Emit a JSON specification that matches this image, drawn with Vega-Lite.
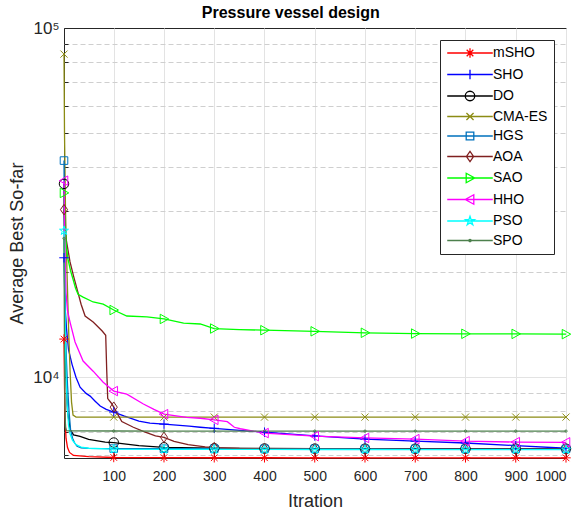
{
  "$schema": "https://vega.github.io/schema/vega-lite/v6.json",
  "autosize": {"type": "none"},
  "width": 502,
  "height": 430,
  "padding": {"left": 64, "top": 28, "right": 14, "bottom": 56},
  "background": "white",
  "config": {
    "font": "Liberation Sans",
    "view": {"stroke": "#262626", "strokeWidth": 1},
    "axis": {"labelFont": "Liberation Sans", "titleFont": "Liberation Sans", "labelColor": "#262626", "titleColor": "#262626", "domainColor": "#262626", "tickColor": "#262626", "titleFontWeight": "normal"},
    "legend": {"orient": "none", "legendX": 376, "legendY": 12, "padding": 6, "rowPadding": 5.5,
        "symbolOffset": 17, "labelOffset": 16, "labelFontSize": 14, "labelFont": "Liberation Sans", "labelColor": "#000000",
        "fillColor": "#ffffff", "strokeColor": "#262626", "symbolSize": 90, "symbolStrokeWidth": 1.3}
  },
  "title": {"text": "Pressure vessel design", "fontSize": 16, "fontWeight": "bold", "font": "Liberation Sans", "color": "#000000", "offset": -2, "anchor": "middle", "frame": "bounds"},
  "datasets": {
    "curves": [
      {"a":"mSHO","it":1,"v":12875},{"a":"mSHO","it":2,"v":9500},{"a":"mSHO","it":3,"v":7800},{"a":"mSHO","it":5,"v":6700},{"a":"mSHO","it":8,"v":6300},{"a":"mSHO","it":12,"v":6100},{"a":"mSHO","it":20,"v":5980},{"a":"mSHO","it":50,"v":5930},{"a":"mSHO","it":100,"v":5900},{"a":"mSHO","it":200,"v":5893},{"a":"mSHO","it":300,"v":5890},{"a":"mSHO","it":400,"v":5889},{"a":"mSHO","it":500,"v":5888},{"a":"mSHO","it":600,"v":5888},{"a":"mSHO","it":700,"v":5887},{"a":"mSHO","it":800,"v":5887},{"a":"mSHO","it":900,"v":5886},{"a":"mSHO","it":1000,"v":5886},
      {"a":"SHO","it":1,"v":22000},{"a":"SHO","it":3,"v":16000},{"a":"SHO","it":6,"v":13800},{"a":"SHO","it":10,"v":12000},{"a":"SHO","it":17,"v":10900},{"a":"SHO","it":25,"v":10000},{"a":"SHO","it":33,"v":9380},{"a":"SHO","it":45,"v":9000},{"a":"SHO","it":53,"v":8840},{"a":"SHO","it":63,"v":8550},{"a":"SHO","it":73,"v":8280},{"a":"SHO","it":85,"v":8100},{"a":"SHO","it":100,"v":7960},{"a":"SHO","it":120,"v":7760},{"a":"SHO","it":150,"v":7500},{"a":"SHO","it":172,"v":7400},{"a":"SHO","it":200,"v":7350},{"a":"SHO","it":250,"v":7250},{"a":"SHO","it":272,"v":7200},{"a":"SHO","it":300,"v":7150},{"a":"SHO","it":400,"v":6970},{"a":"SHO","it":500,"v":6800},{"a":"SHO","it":600,"v":6660},{"a":"SHO","it":700,"v":6570},{"a":"SHO","it":800,"v":6490},{"a":"SHO","it":900,"v":6380},{"a":"SHO","it":1000,"v":6270},
      {"a":"DO","it":1,"v":35800},{"a":"DO","it":2,"v":22000},{"a":"DO","it":3,"v":15000},{"a":"DO","it":5,"v":10000},{"a":"DO","it":8,"v":8000},{"a":"DO","it":13,"v":7100},{"a":"DO","it":20,"v":6850},{"a":"DO","it":33,"v":6780},{"a":"DO","it":50,"v":6650},{"a":"DO","it":83,"v":6530},{"a":"DO","it":100,"v":6510},{"a":"DO","it":150,"v":6380},{"a":"DO","it":200,"v":6310},{"a":"DO","it":300,"v":6270},{"a":"DO","it":400,"v":6260},{"a":"DO","it":500,"v":6255},{"a":"DO","it":600,"v":6252},{"a":"DO","it":700,"v":6250},{"a":"DO","it":800,"v":6250},{"a":"DO","it":900,"v":6250},{"a":"DO","it":1000,"v":6250},
      {"a":"CMA-ES","it":1,"v":84200},{"a":"CMA-ES","it":2,"v":50000},{"a":"CMA-ES","it":4,"v":30000},{"a":"CMA-ES","it":7,"v":20000},{"a":"CMA-ES","it":10,"v":14000},{"a":"CMA-ES","it":13,"v":10500},{"a":"CMA-ES","it":16,"v":8500},{"a":"CMA-ES","it":19,"v":7800},{"a":"CMA-ES","it":25,"v":7700},{"a":"CMA-ES","it":100,"v":7700},{"a":"CMA-ES","it":200,"v":7700},{"a":"CMA-ES","it":300,"v":7700},{"a":"CMA-ES","it":400,"v":7700},{"a":"CMA-ES","it":500,"v":7700},{"a":"CMA-ES","it":600,"v":7700},{"a":"CMA-ES","it":700,"v":7700},{"a":"CMA-ES","it":800,"v":7700},{"a":"CMA-ES","it":900,"v":7700},{"a":"CMA-ES","it":1000,"v":7700},
      {"a":"HGS","it":1,"v":41740},{"a":"HGS","it":2,"v":25000},{"a":"HGS","it":3,"v":17000},{"a":"HGS","it":5,"v":12000},{"a":"HGS","it":8,"v":9500},{"a":"HGS","it":11,"v":8000},{"a":"HGS","it":14,"v":7100},{"a":"HGS","it":18,"v":6700},{"a":"HGS","it":22,"v":6500},{"a":"HGS","it":27,"v":6350},{"a":"HGS","it":35,"v":6290},{"a":"HGS","it":50,"v":6265},{"a":"HGS","it":100,"v":6255},{"a":"HGS","it":200,"v":6250},{"a":"HGS","it":300,"v":6250},{"a":"HGS","it":400,"v":6248},{"a":"HGS","it":500,"v":6248},{"a":"HGS","it":600,"v":6246},{"a":"HGS","it":700,"v":6246},{"a":"HGS","it":800,"v":6245},{"a":"HGS","it":900,"v":6245},{"a":"HGS","it":1000,"v":6245},
      {"a":"AOA","it":1,"v":30210},{"a":"AOA","it":5,"v":25000},{"a":"AOA","it":13,"v":21400},{"a":"AOA","it":20,"v":19500},{"a":"AOA","it":27,"v":17900},{"a":"AOA","it":35,"v":16200},{"a":"AOA","it":43,"v":14990},{"a":"AOA","it":59,"v":14400},{"a":"AOA","it":77,"v":13580},{"a":"AOA","it":84,"v":13200},{"a":"AOA","it":86,"v":10500},{"a":"AOA","it":88,"v":8700},{"a":"AOA","it":95,"v":8450},{"a":"AOA","it":100,"v":8220},{"a":"AOA","it":116,"v":7480},{"a":"AOA","it":139,"v":7200},{"a":"AOA","it":160,"v":7000},{"a":"AOA","it":183,"v":6800},{"a":"AOA","it":200,"v":6740},{"a":"AOA","it":220,"v":6560},{"a":"AOA","it":248,"v":6420},{"a":"AOA","it":282,"v":6330},{"a":"AOA","it":300,"v":6300},{"a":"AOA","it":350,"v":6260},{"a":"AOA","it":400,"v":6245},{"a":"AOA","it":500,"v":6235},{"a":"AOA","it":600,"v":6230},{"a":"AOA","it":700,"v":6230},{"a":"AOA","it":800,"v":6230},{"a":"AOA","it":900,"v":6230},{"a":"AOA","it":1000,"v":6230},
      {"a":"SAO","it":1,"v":33730},{"a":"SAO","it":3,"v":27000},{"a":"SAO","it":6,"v":23500},{"a":"SAO","it":9,"v":21800},{"a":"SAO","it":14,"v":20200},{"a":"SAO","it":19,"v":19100},{"a":"SAO","it":24,"v":18000},{"a":"SAO","it":29,"v":17300},{"a":"SAO","it":39,"v":16970},{"a":"SAO","it":59,"v":16440},{"a":"SAO","it":79,"v":16200},{"a":"SAO","it":100,"v":15590},{"a":"SAO","it":126,"v":14990},{"a":"SAO","it":166,"v":14900},{"a":"SAO","it":200,"v":14700},{"a":"SAO","it":239,"v":14300},{"a":"SAO","it":272,"v":14220},{"a":"SAO","it":300,"v":13800},{"a":"SAO","it":350,"v":13700},{"a":"SAO","it":400,"v":13650},{"a":"SAO","it":500,"v":13550},{"a":"SAO","it":600,"v":13420},{"a":"SAO","it":700,"v":13350},{"a":"SAO","it":800,"v":13330},{"a":"SAO","it":900,"v":13320},{"a":"SAO","it":1000,"v":13300},
      {"a":"HHO","it":1,"v":36560},{"a":"HHO","it":3,"v":22000},{"a":"HHO","it":5,"v":17500},{"a":"HHO","it":8,"v":15500},{"a":"HHO","it":13,"v":14400},{"a":"HHO","it":23,"v":12630},{"a":"HHO","it":39,"v":11140},{"a":"HHO","it":59,"v":10420},{"a":"HHO","it":79,"v":9690},{"a":"HHO","it":100,"v":9140},{"a":"HHO","it":126,"v":8960},{"a":"HHO","it":159,"v":8390},{"a":"HHO","it":180,"v":8100},{"a":"HHO","it":200,"v":7850},{"a":"HHO","it":245,"v":7690},{"a":"HHO","it":272,"v":7640},{"a":"HHO","it":300,"v":7560},{"a":"HHO","it":326,"v":7470},{"a":"HHO","it":340,"v":7200},{"a":"HHO","it":352,"v":7130},{"a":"HHO","it":400,"v":6930},{"a":"HHO","it":500,"v":6790},{"a":"HHO","it":600,"v":6710},{"a":"HHO","it":700,"v":6660},{"a":"HHO","it":800,"v":6570},{"a":"HHO","it":900,"v":6530},{"a":"HHO","it":1000,"v":6520},
      {"a":"PSO","it":1,"v":26300},{"a":"PSO","it":2,"v":20000},{"a":"PSO","it":3,"v":15000},{"a":"PSO","it":5,"v":10500},{"a":"PSO","it":7,"v":8500},{"a":"PSO","it":10,"v":7300},{"a":"PSO","it":13,"v":6900},{"a":"PSO","it":18,"v":6600},{"a":"PSO","it":25,"v":6420},{"a":"PSO","it":35,"v":6320},{"a":"PSO","it":50,"v":6270},{"a":"PSO","it":100,"v":6235},{"a":"PSO","it":200,"v":6225},{"a":"PSO","it":300,"v":6220},{"a":"PSO","it":400,"v":6220},{"a":"PSO","it":500,"v":6218},{"a":"PSO","it":600,"v":6218},{"a":"PSO","it":700,"v":6216},{"a":"PSO","it":800,"v":6216},{"a":"PSO","it":900,"v":6215},{"a":"PSO","it":1000,"v":6215},
      {"a":"SPO","it":1,"v":25000},{"a":"SPO","it":2,"v":12000},{"a":"SPO","it":3,"v":8200},{"a":"SPO","it":4,"v":7200},{"a":"SPO","it":6,"v":7040},{"a":"SPO","it":10,"v":7030},{"a":"SPO","it":100,"v":7025},{"a":"SPO","it":200,"v":7020},{"a":"SPO","it":300,"v":7020},{"a":"SPO","it":400,"v":7020},{"a":"SPO","it":500,"v":7020},{"a":"SPO","it":600,"v":7020},{"a":"SPO","it":700,"v":7020},{"a":"SPO","it":800,"v":7020},{"a":"SPO","it":900,"v":7020},{"a":"SPO","it":1000,"v":7020}
    ]
  },
  "data": {"name": "curves"},
  "encoding": {
    "x": {"field": "it", "type": "quantitative", "title": "Itration",
      "scale": {"domain": [1, 1000], "nice": false, "zero": false},
      "axis": {"values": [100,200,300,400,500,600,700,800,900,1000], "format": "d", "labelFontSize": 14, "titleFontSize": 18, "grid": true, "gridColor": "#e3e3e3", "tickSize": -5, "labelPadding": 16, "titlePadding": 9, "domain": false}},
    "y": {"field": "v", "type": "quantitative", "title": "Average Best So-far",
      "scale": {"type": "log", "domain": [5880, 100000], "nice": false},
      "axis": {"values": [6000,7000,8000,9000,10000,20000,30000,40000,50000,60000,70000,80000,90000,100000],
        "labelExpr": "datum.value == 10000 ? '10⁴' : (datum.value == 100000 ? '10⁵' : '')",
        "labelFontSize": 17, "titleFontSize": 18, "grid": true,
        "gridColor": {"condition": {"test": "datum.value == 10000", "value": "#e3e3e3"}, "value": "#cfcfcf"},
        "gridOpacity": {"condition": {"test": "datum.value == 100000", "value": 0}, "value": 1},
        "gridDash": {"condition": {"test": "datum.value == 10000", "value": []}, "value": [5, 3]},
        "tickSize": -4, "labelPadding": 9, "titlePadding": 6, "domain": false}},
    "color": {"field": "a", "type": "nominal", "title": null,
      "scale": {"domain": ["mSHO","SHO","DO","CMA-ES","HGS","AOA","SAO","HHO","PSO","SPO"],
        "range": ["#FF0000","#0000FF","#000000","#8C8C14","#0072BD","#802020","#00FF00","#FF00FF","#00FFFF","#4D804D"]}}
  },
  "layer": [
    {"mark": {"type": "line", "strokeWidth": 1.3}},
    {"transform": [{"filter": "datum.it < 0"}],
     "mark": {"type": "point", "filled": false, "size": 90, "strokeWidth": 1.3, "opacity": 1},
     "encoding": {"shape": {"field": "a", "type": "nominal", "title": null,
       "scale": {"domain": ["mSHO","SHO","DO","CMA-ES","HGS","AOA","SAO","HHO","PSO","SPO"],
         "range": ["M-4.8,0H4.8M0,-1V1M-1,0H1M-0.7,-0.7L0.7,0.7M-0.7,0.7L0.7,-0.7",
                   "M-4.8,0H4.8M0,-1V1M-1,0H1",
                   "M-4.8,0H4.8M1,0A1,1 0 1,1 -1,0A1,1 0 1,1 1,0Z",
                   "M-4.8,0H4.8M-0.75,-0.75L0.75,0.75M-0.75,0.75L0.75,-0.75",
                   "M-4.8,0H4.8M-0.8,-0.8H0.8V0.8H-0.8Z",
                   "M-4.8,0H4.8M0,-1.1L0.75,0L0,1.1L-0.75,0Z",
                   "M-4.8,0H4.8M-0.8,-1L1,0L-0.8,1Z",
                   "M-4.8,0H4.8M0.8,-1L-1,0L0.8,1Z",
                   "M-4.8,0H4.8M0,-1L0.2234,-0.3074L0.951,-0.309L0.3614,0.1174L0.5878,0.809L0,0.38L-0.5878,0.809L-0.3614,0.1174L-0.951,-0.309L-0.2234,-0.3074Z",
                   "M-4.8,0H4.8M0.25,0A0.25,0.25 0 1,1 -0.25,0A0.25,0.25 0 1,1 0.25,0Z"]}}}},
    {"transform": [{"filter": "datum.a == 'mSHO' && (datum.it == 1 || datum.it % 100 == 0)"}],
     "mark": {"type": "point", "filled": false, "size": 90, "strokeWidth": 1, "opacity": 1, "shape": "M0,-1V1M-1,0H1M-0.7,-0.7L0.7,0.7M-0.7,0.7L0.7,-0.7"}},
    {"transform": [{"filter": "datum.a == 'SHO' && (datum.it == 1 || datum.it % 100 == 0)"}],
     "mark": {"type": "point", "filled": false, "size": 90, "strokeWidth": 1, "opacity": 1, "shape": "M0,-1V1M-1,0H1"}},
    {"transform": [{"filter": "datum.a == 'DO' && (datum.it == 1 || datum.it % 100 == 0)"}],
     "mark": {"type": "point", "filled": false, "size": 90, "strokeWidth": 1, "opacity": 1, "shape": "M1,0A1,1 0 1,1 -1,0A1,1 0 1,1 1,0Z"}},
    {"transform": [{"filter": "datum.a == 'CMA-ES' && (datum.it == 1 || datum.it % 100 == 0)"}],
     "mark": {"type": "point", "filled": false, "size": 90, "strokeWidth": 1, "opacity": 1, "shape": "M-0.75,-0.75L0.75,0.75M-0.75,0.75L0.75,-0.75"}},
    {"transform": [{"filter": "datum.a == 'HGS' && (datum.it == 1 || datum.it % 100 == 0)"}],
     "mark": {"type": "point", "filled": false, "size": 90, "strokeWidth": 1, "opacity": 1, "shape": "M-0.8,-0.8H0.8V0.8H-0.8Z"}},
    {"transform": [{"filter": "datum.a == 'AOA' && (datum.it == 1 || datum.it % 100 == 0)"}],
     "mark": {"type": "point", "filled": false, "size": 90, "strokeWidth": 1, "opacity": 1, "shape": "M0,-1.1L0.75,0L0,1.1L-0.75,0Z"}},
    {"transform": [{"filter": "datum.a == 'SAO' && (datum.it == 1 || datum.it % 100 == 0)"}],
     "mark": {"type": "point", "filled": false, "size": 90, "strokeWidth": 1, "opacity": 1, "shape": "M-0.8,-1L1,0L-0.8,1Z"}},
    {"transform": [{"filter": "datum.a == 'HHO' && (datum.it == 1 || datum.it % 100 == 0)"}],
     "mark": {"type": "point", "filled": false, "size": 90, "strokeWidth": 1, "opacity": 1, "shape": "M0.8,-1L-1,0L0.8,1Z"}},
    {"transform": [{"filter": "datum.a == 'PSO' && (datum.it == 1 || datum.it % 100 == 0)"}],
     "mark": {"type": "point", "filled": false, "size": 90, "strokeWidth": 1, "opacity": 1, "shape": "M0,-1L0.2234,-0.3074L0.951,-0.309L0.3614,0.1174L0.5878,0.809L0,0.38L-0.5878,0.809L-0.3614,0.1174L-0.951,-0.309L-0.2234,-0.3074Z"}},
    {"transform": [{"filter": "datum.a == 'SPO' && (datum.it == 1 || datum.it % 100 == 0)"}],
     "mark": {"type": "point", "filled": false, "size": 90, "strokeWidth": 1, "opacity": 1, "shape": "M0.25,0A0.25,0.25 0 1,1 -0.25,0A0.25,0.25 0 1,1 0.25,0Z"}}
  ]
}
